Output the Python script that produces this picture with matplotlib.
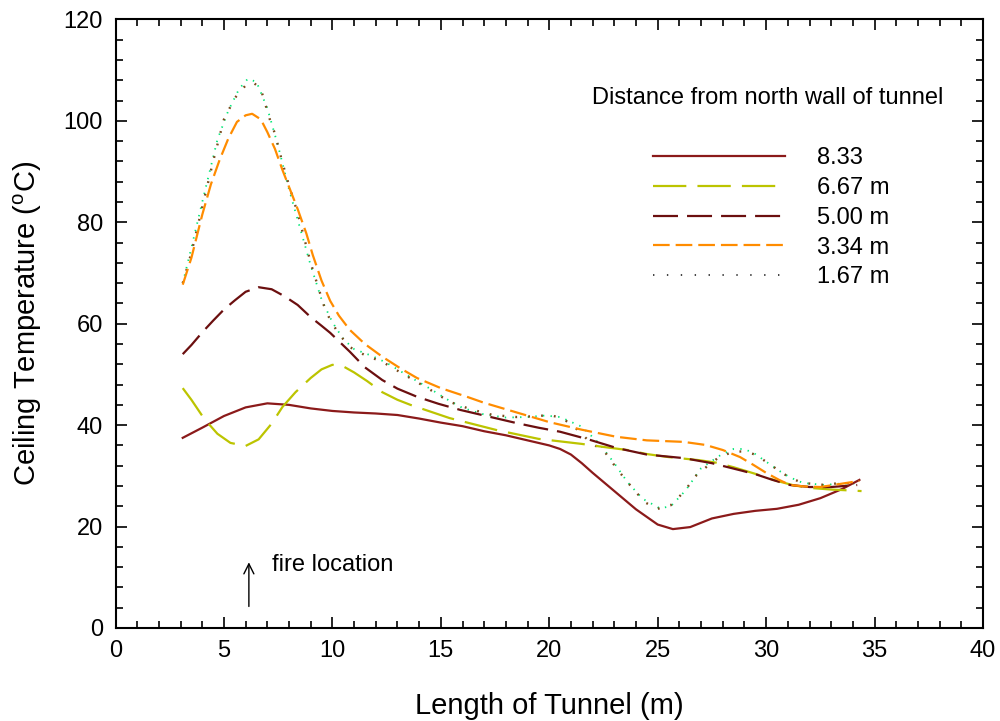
import matplotlib
matplotlib.use("Agg")
import matplotlib.pyplot as plt
from matplotlib.lines import Line2D
from matplotlib.ticker import MultipleLocator

plt.rcParams['font.family'] = ['Liberation Sans', 'DejaVu Sans']
plt.rcParams['mathtext.default'] = 'regular'
plt.rcParams['lines.scale_dashes'] = False

# ---- data ----
x_833 = [3.1, 4, 5, 6, 7, 8, 9, 10, 11, 12, 13, 14, 15, 16, 17, 18, 19, 20, 20.5, 21, 21.5, 22, 23, 24, 25, 25.7,
         26.5, 27.5, 28.5, 29.5, 30.5, 31.5, 32.5, 33.5, 34.3]
y_833 = [37.5, 39.5, 41.8, 43.5, 44.3, 44.0, 43.3, 42.8, 42.5, 42.3, 42.0, 41.3, 40.5, 39.8, 38.8, 38.0, 37.0, 36.0,
         35.3, 34.2, 32.5, 30.6, 27.0, 23.4, 20.4, 19.5, 19.9, 21.6, 22.5, 23.1, 23.5, 24.3, 25.6, 27.4, 29.2]

x_667 = [3.1, 3.5, 4.1, 4.7, 5.3, 6.0, 6.6, 7.2, 7.7, 8.3, 9.0, 9.5, 10.0, 10.5, 11.0, 11.6, 12.3, 13.0, 13.6,
         14.5, 15.4, 16.5, 17.6, 18.5, 19.5, 20.5, 21.5, 22.5, 23.6, 24.5, 25.5, 26.9, 27.7, 28.5, 29.5, 30.5,
         31.3, 32.1, 33.0, 33.5, 34.4]
y_667 = [47.3, 45.0, 41.2, 38.3, 36.5, 35.9, 37.2, 40.3, 43.6, 46.5, 49.3, 51.0, 51.9, 51.6, 50.4, 48.7, 46.5,
         45.0, 44.0, 42.7, 41.4, 40.2, 39.0, 38.2, 37.3, 36.8, 36.3, 35.7, 35.1, 34.3, 33.7, 33.1, 32.6, 31.7,
         30.4, 29.0, 28.1, 27.6, 27.3, 27.2, 27.0]

x_500 = [3.1, 3.5, 4.0, 4.5, 5.0, 5.5, 6.0, 6.6, 7.2, 7.8, 8.4, 9.0, 9.5, 9.9, 10.8, 11.5, 12.3, 13.0, 13.9,
         14.9, 15.9, 17.2, 18.5, 19.5, 20.5, 21.8, 23.1, 24.5, 26.2, 27.5, 28.9, 29.6, 30.3, 31.1, 32.0, 33.0,
         34.2]
y_500 = [54.0, 55.8, 58.3, 60.6, 62.8, 64.6, 66.3, 67.2, 66.8, 65.4, 63.7, 61.3, 59.6, 58.2, 54.5, 51.4, 48.9,
         47.2, 45.6, 44.2, 43.0, 41.7, 40.4, 39.5, 38.7, 37.2, 35.5, 34.2, 33.5, 32.5, 31.0, 30.2, 29.2, 28.2,
         27.8, 27.8, 28.2]

x_334 = [3.1, 3.5, 4.0, 4.4, 4.8, 5.2, 5.6, 6.0, 6.3, 6.7, 7.0, 7.35, 7.7, 8.0, 8.4, 8.8, 9.1, 9.5, 9.9, 10.3,
         10.8, 11.5, 12.3, 13.1, 13.9, 15.0, 16.2, 17.0, 18.5, 20.0, 21.5, 23.1, 24.5, 26.2, 27.2, 28.0, 28.8,
         29.4, 30.0, 30.6, 31.1, 31.8, 32.5, 33.4, 34.3]
y_334 = [67.7, 73.0, 81.5, 87.5, 92.3, 96.5, 99.8, 101.1, 101.4, 100.3, 97.8, 94.5, 90.3, 87.0, 82.6, 77.8, 73.5,
         68.5, 64.5, 61.6, 58.8, 56.0, 53.5, 51.3, 49.3, 47.3, 45.6, 44.4, 42.5, 40.6, 39.1, 37.7, 37.0, 36.7,
         36.1, 35.1, 33.7, 32.2, 30.6, 29.2, 28.2, 27.9, 27.8, 28.4, 29.0]

x_167 = [3.1, 3.5, 4.0, 4.5, 5.0, 5.5, 6.0, 6.35, 6.7, 7.1, 7.35, 7.7, 8.0, 8.4, 9.0, 9.6, 9.9, 10.3, 10.8, 11.5,
         12.3, 13.1, 13.9, 14.7, 15.4, 16.4, 17.4, 18.5, 19.5, 20.0, 20.6, 21.2, 21.8, 22.6, 23.1, 23.6, 24.4,
         25.0, 25.6, 26.2, 26.8, 27.2, 27.8, 28.5, 29.0, 29.5, 30.1, 30.6, 31.1, 31.7, 32.7, 33.4, 34.3]
y_167 = [68.0, 74.0, 83.0, 92.0, 100.3, 104.5, 107.0, 107.6, 106.3, 100.5, 97.5, 91.7, 87.3, 81.8, 72.0, 63.7,
         60.7, 58.0, 55.4, 53.8, 52.5, 50.5, 48.5, 46.5, 44.6, 43.1, 42.0, 41.6, 41.8, 42.0, 41.4, 39.5, 37.0,
         34.5, 31.5, 28.8, 24.8, 23.5, 24.2, 26.8, 30.2, 31.6, 33.6, 34.8, 34.8, 34.2, 32.5, 31.0, 29.6, 28.6,
         28.2, 28.6, 28.4]

x_green = [3.1, 3.5, 4.0, 4.7, 5.2, 5.7, 6.1, 6.5, 7.0, 7.5, 8.0, 8.5, 9.0, 9.5, 10.0, 10.5, 11.0, 11.8, 12.5,
           13.5, 14.5, 15.2, 16.0, 17.0, 18.0, 19.0, 19.8, 20.5, 21.5, 22.3, 23.0, 23.6, 24.3, 25.1, 25.6, 26.0,
           26.3, 27.0, 27.9, 28.5, 29.0, 29.5, 30.1, 30.6, 31.1, 31.7, 32.7, 33.5, 34.3]
y_green = [68.0, 75.0, 84.0, 96.3, 102.0, 106.3, 108.3, 107.7, 102.5, 95.0, 86.5, 79.0, 71.5, 64.8, 60.3, 57.0,
           55.0, 53.7, 52.3, 49.7, 47.2, 45.3, 43.4, 42.1, 41.5, 41.6, 41.9, 41.6, 39.7, 36.4, 32.5, 28.8, 25.5,
           23.6, 24.0, 25.8, 27.2, 31.5, 34.1, 35.3, 35.3, 34.3, 32.5, 31.0, 29.7, 28.6, 28.2, 28.5, 28.5]

labels = ['8.33', '6.67 m', '5.00 m', '3.34 m', '1.67 m']
legend_title = 'Distance from north wall of tunnel'

c833 = '#8B1A1A'
c667 = '#BCC400'
c500 = '#6B0F0F'
c334 = '#FF8C00'
c167 = '#7A4A1A'
cgreen = '#00E676'

fig = plt.figure(figsize=(10, 7.21), dpi=100)
ax = fig.add_axes([0.1155, 0.129, 0.8675, 0.844])

ax.plot(x_green, y_green, color=cgreen, lw=1.3, linestyle=(0, (1, 4.5)))
ax.plot(x_167, y_167, color=c167, lw=1.7, linestyle=(0, (1.3, 8)))
ax.plot(x_833, y_833, color=c833, lw=1.6, linestyle='-')
ax.plot(x_667, y_667, color=c667, lw=1.6, linestyle=(0, (24, 8)))
ax.plot(x_500, y_500, color=c500, lw=1.6, linestyle=(0, (18, 6.5)))
ax.plot(x_334, y_334, color=c334, lw=1.6, linestyle=(0, (12, 4.3)))

ax.set_xlim(0, 40)
ax.set_ylim(0, 120)
ax.xaxis.set_major_locator(MultipleLocator(5))
ax.xaxis.set_minor_locator(MultipleLocator(1))
ax.yaxis.set_major_locator(MultipleLocator(20))
ax.yaxis.set_minor_locator(MultipleLocator(4))
ax.tick_params(which='both', direction='in', top=True, right=True, width=1.2, labelsize=17)
ax.tick_params(which='major', length=8)
ax.tick_params(which='minor', length=5)
ax.tick_params(axis='x', pad=8.6)
ax.tick_params(axis='y', pad=9)
for s in ax.spines.values():
    s.set_linewidth(1.5)

ax.set_xlabel('Length of Tunnel (m)', fontsize=21, va='center')
ax.set_ylabel('Ceiling Temperature ($^{o}$C)', fontsize=21, va='center')
ax.xaxis.set_label_coords(0.5, -0.128)
ax.yaxis.set_label_coords(-0.101, 0.5)

handles = [
    Line2D([], [], color=c833, lw=1.6, linestyle='-'),
    Line2D([], [], color=c667, lw=1.6, linestyle=(0, (24, 8))),
    Line2D([], [], color=c500, lw=1.6, linestyle=(0, (18, 6.5))),
    Line2D([], [], color=c334, lw=1.6, linestyle=(0, (12, 4.3))),
    Line2D([], [], color='#222222', lw=1.2, linestyle=(0, (1, 9))),
]
leg = ax.legend(handles, labels, loc='upper left', bbox_to_anchor=(0.6196, 0.790),
                frameon=False, fontsize=17, handlelength=5.6, handletextpad=1.36,
                labelspacing=0.33, borderpad=0, borderaxespad=0)

ax.text(0.549, 0.871, legend_title, transform=ax.transAxes, fontsize=17,
        ha='left', va='center')

ax.annotate('', xy=(6.15, 13.5), xytext=(6.15, 3.7),
            arrowprops=dict(arrowstyle='->', color='black', lw=1.0, mutation_scale=18))
ax.text(7.2, 12.5, 'fire location', fontsize=17, ha='left', va='center')

fig.savefig('out.png', dpi=100)
